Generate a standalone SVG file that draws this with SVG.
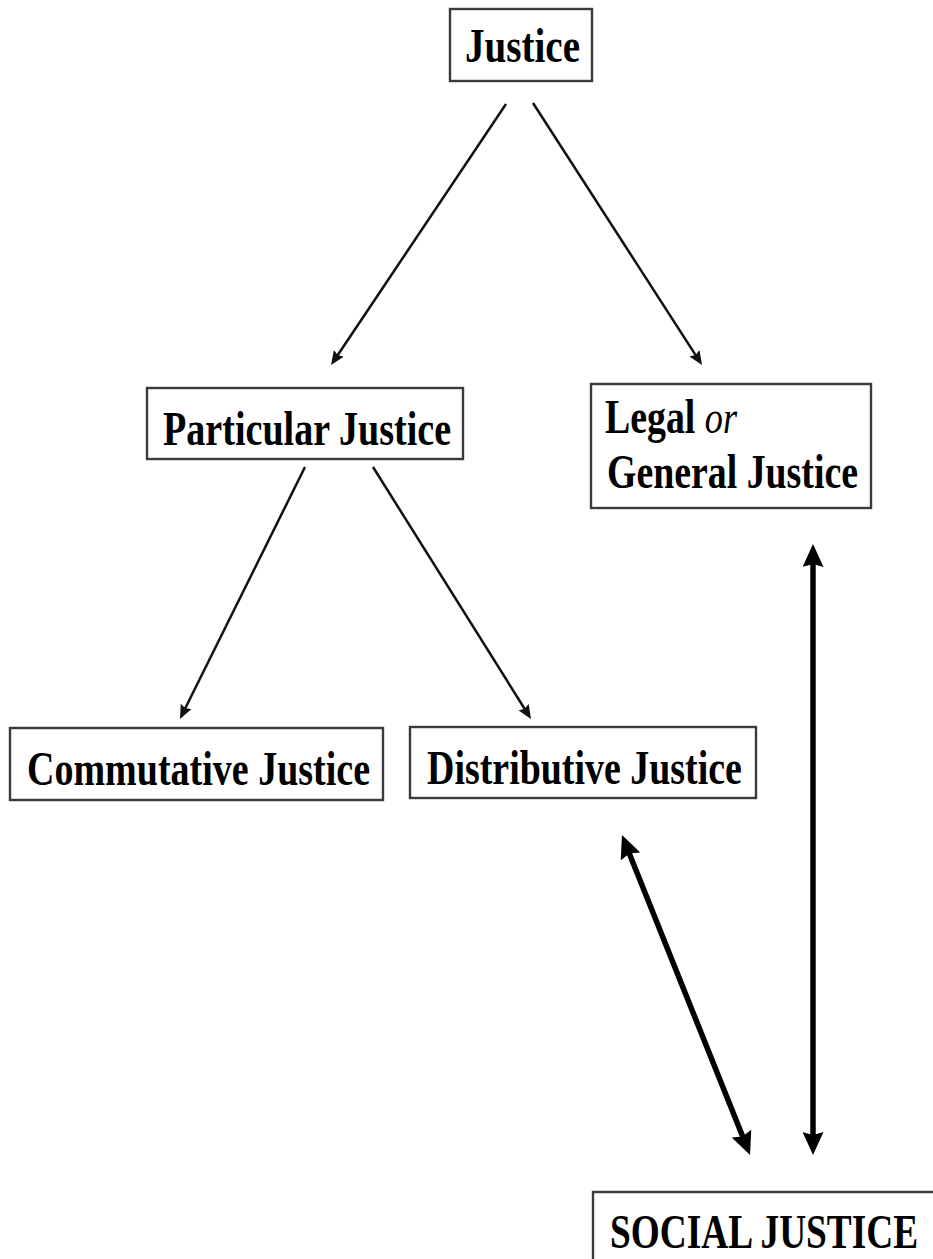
<svg xmlns="http://www.w3.org/2000/svg" width="933" height="1259" viewBox="0 0 933 1259">
<style>
.box{fill:#fff;stroke:#3a3a3a;stroke-width:2.4}
.t{font-family:"Liberation Serif","Times New Roman",serif;font-weight:bold;font-size:48px;fill:#000}
.it{font-style:italic;font-weight:normal;font-size:46px}
.thin{stroke:#111;stroke-width:2.5;fill:none}
.thick{stroke:#000;stroke-width:5.5;fill:none}
</style>
<defs>
<marker id="ah" markerUnits="userSpaceOnUse" markerWidth="14" markerHeight="12" refX="4" refY="6" orient="auto" viewBox="0 0 14 12">
<path d="M0,0 L14,6 L0,12 L2,6 z" fill="#111"/>
</marker>
<marker id="ahb" markerUnits="userSpaceOnUse" markerWidth="23" markerHeight="21" refX="7" refY="10.5" orient="auto-start-reverse" viewBox="0 0 23 21">
<path d="M0,0 L23,10.5 L0,21 L3,10.5 z" fill="#000"/>
</marker>
</defs>
<rect width="933" height="1259" fill="#fff"/>
<g id="connectors">
<line class="thin" x1="506" y1="104" x2="336.6" y2="356.7" marker-end="url(#ah)"/>
<line class="thin" x1="533" y1="103" x2="696.6" y2="356.6" marker-end="url(#ah)"/>
<line class="thin" x1="305" y1="467" x2="184.4" y2="710" marker-end="url(#ah)"/>
<line class="thin" x1="373" y1="467" x2="525.7" y2="710.5" marker-end="url(#ah)"/>
<line class="thick" x1="627.9" y1="849.9" x2="744.1" y2="1140.1" marker-start="url(#ahb)" marker-end="url(#ahb)"/>
<line class="thick" x1="813" y1="560" x2="813" y2="1139" marker-start="url(#ahb)" marker-end="url(#ahb)"/>
</g>
<g id="justice">
<rect class="box" x="450" y="9" width="142" height="72"/>
<text class="t" transform="translate(465,62) scale(0.814,1)">Justice</text>
</g>
<g id="particular">
<rect class="box" x="147" y="388" width="316" height="71"/>
<text class="t" transform="translate(163,445) scale(0.794,1)">Particular Justice</text>
</g>
<g id="legal">
<rect class="box" x="591" y="384" width="280" height="124"/>
<text class="t" transform="translate(605,433) scale(0.788,1)">Legal <tspan class="it">or</tspan></text>
<text class="t" transform="translate(607,488) scale(0.788,1)">General Justice</text>
</g>
<g id="commutative">
<rect class="box" x="10" y="728" width="373" height="72"/>
<text class="t" transform="translate(27,785) scale(0.792,1)">Commutative Justice</text>
</g>
<g id="distributive">
<rect class="box" x="410" y="727" width="346" height="71"/>
<text class="t" transform="translate(427,784) scale(0.79,1)">Distributive Justice</text>
</g>
<g id="social">
<rect class="box" x="593" y="1192" width="400" height="100"/>
<text class="t" transform="translate(610,1248) scale(0.778,1)">SOCIAL JUSTICE</text>
</g>
</svg>
